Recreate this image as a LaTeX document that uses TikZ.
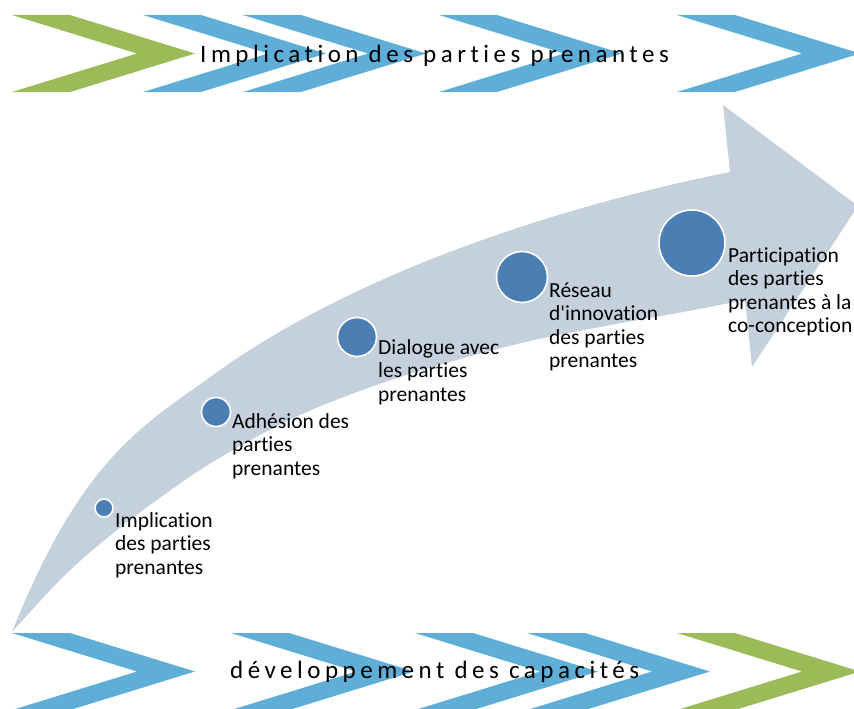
\documentclass[tikz,border=0pt]{standalone}
\usepackage{fontspec}
\setmainfont{Carlito}
\newfontfamily\labfont{Carlito}[Ligatures={NoCommon}]
\definecolor{blueC}{RGB}{94,174,216}
\definecolor{greenC}{RGB}{155,187,89}
\definecolor{arrowC}{RGB}{197,208,221}
\definecolor{dotC}{RGB}{75,126,179}
\tikzset{
  pics/chevron/.style={code={\fill[#1] (0,0) -- (58,0) -- (183,38.5) -- (58,77) -- (0,77) -- (125,38.5) -- cycle;}},
  dot/.style={circle, fill=dotC, draw=white, line width=1.6pt, inner sep=0pt},
  lab/.style={anchor=base west, align=left, inner sep=0pt, font=\labfont\fontsize{21.5}{23.5}\selectfont, text=black},
  band/.style={anchor=base west, inner sep=0pt, font=\labfont\fontsize{25}{28}\selectfont\addfontfeature{LetterSpace=18}, text=black}
}
\begin{document}
\begin{tikzpicture}[x=1pt,y=-1pt]
\useasboundingbox (0,0) rectangle (854,709);
\clip (0,0) rectangle (854,709);
% big curved arrow
\fill[arrowC] (12,632) .. controls (82,457) and (143,425.8) .. (213,375)
  .. controls (363,266.1) and (580,202) .. (730,172)
  -- (723,105) -- (858,206) -- (752,367)
  -- plot[smooth,tension=0.55] coordinates {(745,300) (683,312) (600,327) (513,345) (400,377) (300,415) (216,460) (150,505) (95,548) (57,583) (12,632)} -- cycle;
% top band
\pic at (12,15) {chevron=greenC};
\pic at (143,15) {chevron=blueC};
\pic at (243,15) {chevron=blueC};
\pic at (439,15) {chevron=blueC};
\pic at (677,15) {chevron=blueC};
% bottom band
\pic at (12,633) {chevron=blueC};
\pic at (231,633) {chevron=blueC};
\pic at (415,633) {chevron=blueC};
\pic at (527,633) {chevron=blueC};
\pic at (677,633) {chevron=greenC};
\node[band] (tt) at (200,62.5) {Implication des parties prenantes};
\node[band] (bt) at (230,678) {développement des capacités};
% circles
\node[dot, minimum size=18pt] (c1) at (104,508) {};
\node[dot, minimum size=29pt] (c2) at (216,412) {};
\node[dot, minimum size=39pt] (c3) at (357,337) {};
\node[dot, minimum size=51pt] (c4) at (522,277) {};
\node[dot, minimum size=66pt] (c5) at (692,243) {};
% labels (anchored at the baseline of the last line)
\node[lab] (l1) at (115,574) {Implication\\des parties\\prenantes};
\node[lab] (l2) at (232,475) {Adhésion des\\parties\\prenantes};
\node[lab] (l3) at (378,401) {Dialogue avec\\les parties\\prenantes};
\node[lab] (l4) at (549,367.5) {Réseau\\d'innovation\\des parties\\prenantes};
\node[lab] (l5) at (728,332.5) {Participation\\des parties\\prenantes à la\\co-conception};
\end{tikzpicture}
\end{document}
